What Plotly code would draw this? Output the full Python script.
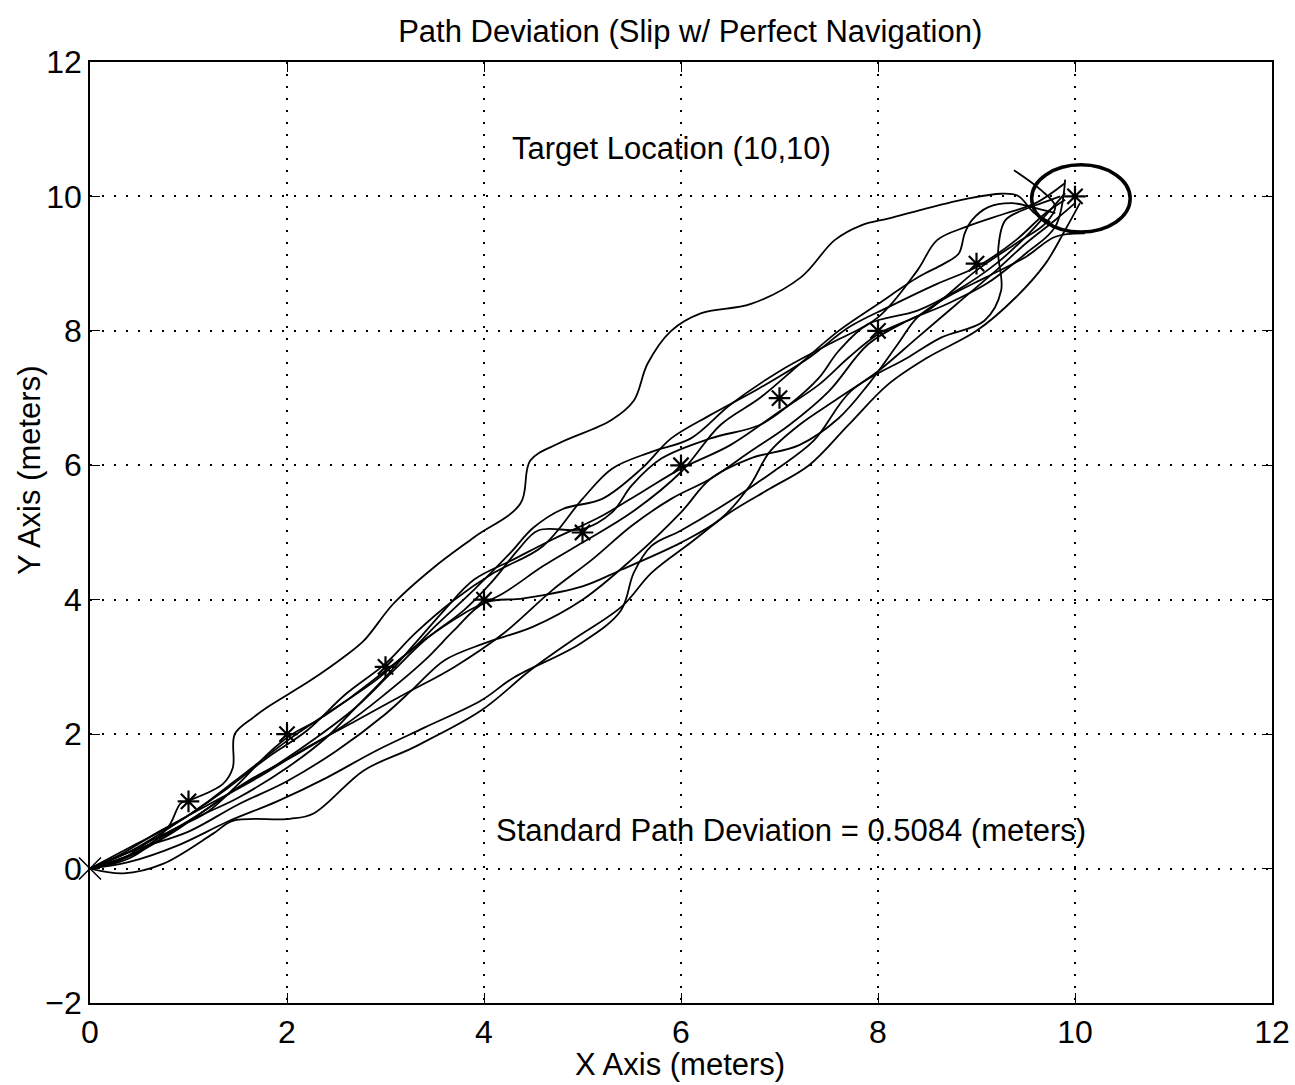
import plotly.graph_objects as go

# ---- data ----
waypoint_x = [1, 2, 3, 4, 5, 6, 7, 8, 9, 10]
waypoint_y = [1, 2, 3, 4, 5, 6, 7, 8, 9, 10]
origin_x = [0]
origin_y = [0]

path1_x = [0, 0.41, 0.79, 0.92, 1.0, 1.35, 1.45, 1.47, 1.66, 1.8, 2.24, 2.57, 2.78, 3.08, 3.49, 3.9, 4.37, 4.47, 4.75, 5.29, 5.52, 5.66, 5.9, 6.2, 6.71, 7.22, 7.56, 7.83, 8.1, 8.41, 8.92, 9.25, 9.42, 9.59, 9.75]
path1_y = [0, 0.16, 0.61, 0.97, 1.01, 1.26, 1.5, 2.0, 2.25, 2.4, 2.8, 3.14, 3.39, 3.94, 4.48, 4.93, 5.43, 6.07, 6.32, 6.67, 6.96, 7.51, 8.0, 8.26, 8.4, 8.8, 9.35, 9.57, 9.67, 9.79, 9.97, 10.04, 10.01, 9.75, 9.62]

path2_x = [0, 0.3, 0.6, 0.9, 1.2, 1.5, 1.8, 2.03, 2.3, 2.65, 3.03, 3.3, 3.5, 3.9, 4.27, 4.5, 4.8, 5.2, 5.6, 5.9, 6.3, 6.8, 7.3, 7.7, 8.1, 8.6, 9.0, 9.4, 9.7, 9.9]
path2_y = [0, 0.12, 0.4, 0.62, 0.85, 1.25, 1.7, 1.98, 2.2, 2.55, 2.98, 3.3, 3.6, 4.15, 4.7, 5.07, 5.35, 5.5, 5.95, 6.4, 6.75, 7.15, 7.6, 8.05, 8.35, 8.7, 8.95, 9.35, 9.75, 9.95]

path3_x = [0, 0.4, 0.8, 1.2, 1.6, 2.1, 2.6, 3.0, 3.4, 3.7, 4.0, 4.4, 5.0, 5.4, 6.0, 6.4, 6.7, 6.9, 7.2, 7.6, 8.0, 8.4, 8.8, 9.2, 9.5, 9.8, 10.0]
path3_y = [0, 0.2, 0.5, 0.9, 1.3, 1.7, 2.15, 2.6, 3.1, 3.55, 3.95, 4.02, 4.2, 4.45, 4.85, 5.2, 5.7, 6.2, 6.6, 7.0, 7.4, 7.9, 8.4, 8.9, 9.3, 9.65, 9.9]

path4_x = [0, 0.35, 0.7, 1.1, 1.5, 1.9, 2.3, 2.7, 3.05, 3.4, 3.8, 4.1, 4.35, 4.55, 5.0, 5.3, 5.5, 5.8, 6.3, 6.8, 7.1, 7.4, 7.6, 7.9, 8.4, 8.8, 9.2, 9.5, 9.75, 9.9]
path4_y = [0, 0.15, 0.45, 0.8, 1.2, 1.55, 1.95, 2.4, 2.9, 3.4, 3.85, 4.3, 4.75, 5.03, 5.05, 5.3, 5.7, 6.1, 6.4, 6.6, 6.9, 7.3, 7.7, 8.1, 8.3, 8.6, 9.0, 9.4, 9.8, 10.05]

path5_x = [0, 0.34, 0.74, 1.25, 1.45, 2.03, 2.27, 2.78, 3.28, 3.97, 4.47, 4.9, 5.4, 5.7, 6.1, 6.5, 6.9, 7.3, 7.7, 8.1, 8.5, 9.0, 9.4, 9.7, 9.9, 10.05]
path5_y = [0, -0.07, 0.07, 0.52, 0.71, 0.74, 0.82, 1.46, 1.8, 2.35, 2.95, 3.4, 3.9, 4.4, 4.85, 5.3, 5.65, 6.0, 6.6, 7.2, 7.6, 8.0, 8.5, 9.0, 9.5, 9.9]

path6_x = [0, 0.4, 0.9, 1.4, 1.9, 2.4, 2.9, 3.4, 3.97, 4.3, 4.98, 5.39, 5.52, 5.7, 6.0, 6.51, 6.95, 7.35, 7.73, 8.3, 8.64, 9.08, 9.25, 9.22, 9.29, 9.46, 9.66, 9.85]
path6_y = [0, 0.1, 0.35, 0.7, 1.0, 1.35, 1.75, 2.1, 2.5, 2.84, 3.35, 3.84, 4.4, 4.8, 5.03, 5.48, 5.92, 6.37, 7.11, 7.6, 7.9, 8.15, 8.6, 9.2, 9.64, 9.79, 9.9, 10.0]

path7_x = [0, 0.5, 1.0, 1.5, 2.0, 2.5, 3.0, 3.3, 3.6, 4.0, 4.5, 5.0, 5.5, 6.0, 6.3, 6.7, 7.2, 7.6, 7.9, 8.2, 8.4, 8.7, 9.1, 9.5, 9.8, 10.1]
path7_y = [0, 0.3, 0.55, 0.95, 1.3, 1.75, 2.3, 2.7, 3.1, 3.35, 3.6, 4.0, 4.6, 5.3, 5.8, 6.1, 6.3, 6.7, 7.2, 7.8, 8.2, 8.5, 8.8, 9.1, 9.4, 9.45]

path8_x = [0, 0.45, 0.9, 1.4, 1.8, 2.2, 2.6, 3.0, 3.3, 3.7, 4.1, 4.6, 5.0, 5.3, 5.7, 6.1, 6.5, 7.0, 7.5, 8.0, 8.4, 8.6, 8.9, 9.3, 9.6, 9.9]
path8_y = [0, 0.35, 0.7, 1.2, 1.65, 2.05, 2.6, 3.05, 3.5, 4.0, 4.4, 4.8, 5.5, 5.95, 6.2, 6.4, 6.9, 7.4, 7.8, 8.2, 8.9, 9.35, 9.55, 9.75, 9.9, 10.2]

path9_x = [0, 0.5, 1.0, 1.5, 2.0, 2.4, 2.7, 3.0, 3.3, 3.6, 3.9, 4.3, 4.7, 5.2, 5.6, 6.0, 6.5, 7.0, 7.4, 7.7, 8.0, 8.5, 9.0, 9.4, 9.7, 9.8, 9.65, 9.38]
path9_y = [0, 0.25, 0.7, 1.05, 1.5, 1.95, 2.4, 2.85, 3.35, 3.85, 4.3, 4.6, 4.9, 5.25, 5.6, 5.95, 6.3, 6.8, 7.2, 7.6, 7.95, 8.3, 8.9, 9.3, 9.6, 9.85, 10.1, 10.39]

path10_x = [0, 0.4, 0.8, 1.2, 1.6, 2.0, 2.4, 2.9, 3.3, 3.8, 4.2, 4.6, 5.0, 5.5, 6.0, 6.4, 6.8, 7.2, 7.6, 8.0, 8.41, 8.67, 8.82, 8.88, 8.95, 9.12, 9.36, 9.56, 9.8]
path10_y = [0, 0.25, 0.6, 1.0, 1.45, 1.9, 2.3, 2.8, 3.3, 3.8, 4.1, 4.5, 4.85, 5.3, 5.9, 6.6, 7.0, 7.5, 8.0, 8.4, 8.8, 9.0, 9.15, 9.45, 9.64, 9.84, 9.9, 9.84, 9.75]

path11_x = [0, 0.3, 0.7, 1.2, 1.7, 2.2, 2.7, 3.2, 3.7, 4.2, 4.7, 5.1, 5.5, 5.9, 6.3, 6.7, 7.1, 7.5, 7.9, 8.3, 8.7, 9.1, 9.5, 9.8, 9.9]
path11_y = [0, 0.2, 0.55, 0.95, 1.35, 1.8, 2.2, 2.6, 3.0, 3.5, 4.15, 4.6, 5.1, 5.5, 5.8, 6.2, 6.6, 7.1, 7.8, 8.15, 8.4, 8.7, 9.15, 9.55, 10.25]

paths = [
    (path1_x, path1_y), (path2_x, path2_y), (path3_x, path3_y), (path4_x, path4_y),
    (path5_x, path5_y), (path6_x, path6_y), (path7_x, path7_y), (path8_x, path8_y),
    (path9_x, path9_y), (path10_x, path10_y), (path11_x, path11_y),
]

target_circle = dict(cx=10.06, cy=9.97, r=0.5)

title_text = "Path Deviation (Slip w/ Perfect Navigation)"
x_title = "X Axis (meters)"
y_title = "Y Axis (meters)"
target_label = "Target Location (10,10)"
deviation_label = "Standard Path Deviation = 0.5084 (meters)"
tick_vals_x = [0, 2, 4, 6, 8, 10, 12]
tick_vals_y = [-2, 0, 2, 4, 6, 8, 10, 12]

FONT = "Liberation Sans, Arial, Helvetica, sans-serif"

fig = go.Figure()
for px, py in paths:
    fig.add_trace(go.Scatter(x=px, y=py, mode="lines",
                             line=dict(color="black", width=1.8, shape="spline", smoothing=1.0),
                             hoverinfo="skip", showlegend=False))

fig.add_trace(go.Scatter(x=waypoint_x, y=waypoint_y, mode="markers",
                         marker=dict(symbol="asterisk-open", size=18, color="black",
                                     line=dict(color="black", width=2.2)),
                         showlegend=False))
fig.add_trace(go.Scatter(x=origin_x, y=origin_y, mode="markers",
                         marker=dict(symbol="x-thin-open", size=22, color="black",
                                     line=dict(color="black", width=1.5)),
                         showlegend=False, cliponaxis=False))

c = target_circle
fig.add_shape(type="circle", xref="x", yref="y",
              x0=c["cx"] - c["r"], x1=c["cx"] + c["r"],
              y0=c["cy"] - c["r"], y1=c["cy"] + c["r"],
              line=dict(color="black", width=3.5))

fig.add_annotation(x=5.9, y=10.72, text=target_label, showarrow=False,
                   font=dict(family=FONT, size=31, color="black"))
fig.add_annotation(x=7.12, y=0.57, text=deviation_label, showarrow=False,
                   font=dict(family=FONT, size=31, color="black"))

# axis titles as paper-positioned annotations
fig.add_annotation(xref="paper", yref="paper", x=0.499, y=-0.065,
                   xanchor="center", yanchor="middle", text=x_title, showarrow=False,
                   font=dict(family=FONT, size=31, color="black"))
fig.add_annotation(xref="paper", yref="paper", x=-0.051, y=0.566,
                   xanchor="center", yanchor="middle", text=y_title, showarrow=False,
                   textangle=-90, font=dict(family=FONT, size=31, color="black"))

axis_common = dict(showgrid=True, gridcolor="black", griddash="2px,10px", gridwidth=1.5,
                   zeroline=False, showline=True, linecolor="black", linewidth=1.5,
                   mirror="ticks", ticks="inside", ticklen=10, tickcolor="black",
                   automargin=False,
                   tickfont=dict(family=FONT, size=32, color="black"))

fig.update_layout(
    width=1295, height=1085,
    margin=dict(l=90, r=23, t=62, b=82, autoexpand=False),
    paper_bgcolor="white", plot_bgcolor="white",
    title=dict(text=title_text, x=0.533, xanchor="center", y=0.971, yanchor="middle",
               font=dict(family=FONT, size=31, color="black")),
    xaxis=dict(range=[0, 12], tickvals=tick_vals_x, **axis_common),
    yaxis=dict(range=[-2, 12], tickvals=tick_vals_y, **axis_common),
)

fig.write_html("out.html", config={"displayModeBar": False},
               post_script="document.body.style.margin='0';document.body.style.overflow='hidden';")
